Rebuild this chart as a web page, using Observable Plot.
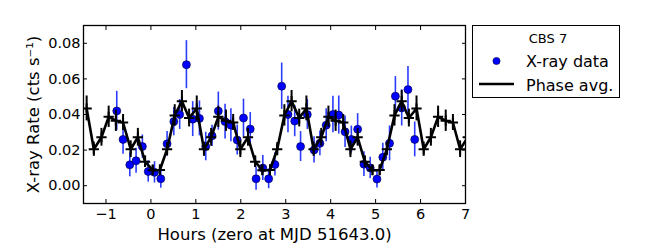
<!DOCTYPE html>
<html>
<head>
<meta charset="utf-8">
<script src="https://cdn.jsdelivr.net/npm/d3@7"></script>
<script src="https://cdn.jsdelivr.net/npm/@observablehq/plot@0.6"></script>
<style>
  html, body { margin: 0; padding: 0; background: #fff; }
  #wrap { position: relative; width: 664px; height: 249px; font-family: "DejaVu Sans", sans-serif; }
  #legend { position: absolute; left: 472px; top: 25px; width: 148px; height: 73px;
            border: 1px solid #000; box-sizing: border-box; background: #fff; }
  #legend svg { position: absolute; left: 0; top: 0; }
</style>
</head>
<body>
<div id="wrap"></div>
<script>
// X-ray data (blue points)
const dataHours = [-0.76, -0.62, -0.47, -0.33, -0.19, -0.06, 0.08, 0.22, 0.36, 0.51, 0.64, 0.79, 0.93, 1.08,
  1.22, 1.36, 1.50, 1.65, 1.78, 1.92, 2.06, 2.21, 2.34, 2.49, 2.62, 2.76, 2.91, 3.05, 3.20, 3.33, 3.48,
  3.63, 3.76, 3.90, 4.05, 4.18, 4.32, 4.46, 4.60, 4.74, 4.88, 5.03, 5.16, 5.31, 5.44, 5.58, 5.72, 5.87];
const dataRate = [0.042, 0.026, 0.0117, 0.014, 0.022, 0.008, 0.0075, 0.0039, 0.0235, 0.036, 0.040, 0.068, 0.0374, 0.0378,
  0.022, 0.028, 0.0419, 0.036, 0.034, 0.0257, 0.038, 0.0318, 0.0039, 0.0099, 0.0039, 0.0119, 0.0559, 0.040, 0.0363, 0.022, 0.040,
  0.0201, 0.0238, 0.034, 0.040, 0.0397, 0.0303, 0.026, 0.0317, 0.0121, 0.0100, 0.0037, 0.016, 0.0238, 0.0503, 0.0437, 0.054, 0.026];
const dataErr = [0.011, 0.0084, 0.0067, 0.007, 0.0065, 0.006, 0.006, 0.0053, 0.007, 0.008, 0.0084, 0.0135, 0.0098, 0.0098,
  0.008, 0.006, 0.0107, 0.0098, 0.0093, 0.0084, 0.0106, 0.0093, 0.0065, 0.007, 0.0056, 0.0065, 0.013, 0.0102, 0.0088, 0.0084, 0.0084,
  0.0074, 0.007, 0.0093, 0.0102, 0.0107, 0.0088, 0.0075, 0.0088, 0.007, 0.006, 0.005, 0.0079, 0.0098, 0.011, 0.0102, 0.013, 0.0098];

// Phase-averaged curve (black)
const phaseHours = [-1.43, -1.27, -1.10, -0.94, -0.78, -0.62, -0.45, -0.29, -0.13, 0.04, 0.20, 0.36, 0.53, 0.69, 0.85,
  1.02, 1.18, 1.34, 1.50, 1.67, 1.83, 1.99, 2.16, 2.32, 2.48, 2.65, 2.81, 2.97, 3.13, 3.30, 3.46, 3.62, 3.79, 3.95,
  4.11, 4.28, 4.44, 4.60, 4.76, 4.93, 5.09, 5.25, 5.42, 5.58, 5.74, 5.91, 6.07, 6.23, 6.39, 6.56, 6.72, 6.88, 7.05];
const phaseRate = [0.0434, 0.0205, 0.0272, 0.0387, 0.0365, 0.0355, 0.0205, 0.0272, 0.0135, 0.0087, 0.0088, 0.0205, 0.0395, 0.0475, 0.0380,
  0.0434, 0.0205, 0.0272, 0.0387, 0.0365, 0.0355, 0.0205, 0.0272, 0.0135, 0.0087, 0.0088, 0.0205, 0.0395, 0.0475, 0.0380,
  0.0434, 0.0205, 0.0272, 0.0387, 0.0365, 0.0355, 0.0205, 0.0272, 0.0135, 0.0087, 0.0088, 0.0205, 0.0395, 0.0475, 0.0380,
  0.0434, 0.0205, 0.0272, 0.0387, 0.0365, 0.0355, 0.0205, 0.0272];
const phaseErr = [0.007, 0.004, 0.005, 0.006, 0.006, 0.0045, 0.0047, 0.005, 0.0033, 0.003, 0.003, 0.0037, 0.006, 0.006, 0.005,
  0.007, 0.004, 0.005, 0.006, 0.006, 0.0045, 0.0047, 0.005, 0.0033, 0.003, 0.003, 0.0037, 0.006, 0.006, 0.005,
  0.007, 0.004, 0.005, 0.006, 0.006, 0.0045, 0.0047, 0.005, 0.0033, 0.003, 0.003, 0.0037, 0.006, 0.006, 0.005,
  0.007, 0.004, 0.005, 0.006, 0.006, 0.0045, 0.0047, 0.005];

const xTicks = [-1, 0, 1, 2, 3, 4, 5, 6, 7];
const yTicks = [0.00, 0.02, 0.04, 0.06, 0.08];

const legendTitle = "CBS 7";
const legendLabels = ["X-ray data", "Phase avg."];
const xLabel = "Hours (zero at MJD 51643.0)";
const yLabel = "X-ray Rate (cts s\u207B\u00B9)";

const data = dataHours.map((h, i) => ({h, r: dataRate[i], e: dataErr[i]}));
const phase = phaseHours.map((h, i) => ({h, r: phaseRate[i], e: phaseErr[i]}));

const blue = "#0000ff";
const noText = () => "";
const chart = Plot.plot({
  width: 664,
  height: 249,
  marginLeft: 83,
  marginRight: 199,
  marginTop: 25,
  marginBottom: 46,
  style: {fontFamily: "DejaVu Sans, sans-serif", background: "transparent"},
  x: {type: "linear", domain: [-1.5, 7]},
  y: {type: "linear", domain: [-0.01, 0.09]},
  marks: [
    // X-ray data
    Plot.ruleX(data, {x: "h", y1: d => d.r - d.e, y2: d => d.r + d.e, stroke: "#2b3cff", strokeWidth: 1.6, clip: true}),
    Plot.dot(data, {x: "h", y: "r", r: 4, fill: blue, stroke: "#000033", strokeWidth: 0.6, clip: true}),
    // phase average
    Plot.ruleX(phase, {x: "h", y1: d => d.r - d.e, y2: d => d.r + d.e, stroke: "#000", strokeWidth: 2, clip: true}),
    Plot.line(phase, {x: "h", y: "r", stroke: "#000", strokeWidth: 2.6, clip: true}),
    Plot.dot(phase, {x: "h", y: "r", symbol: "plus", r: 3.4, stroke: "#000", strokeWidth: 2, clip: true}),
    // inward ticks on all sides
    Plot.axisX(xTicks, {anchor: "bottom", tickSize: -4, tickFormat: noText, label: null, strokeWidth: 1}),
    Plot.axisX(xTicks, {anchor: "top", tickSize: -4, tickFormat: noText, label: null, strokeWidth: 1}),
    Plot.axisY(yTicks, {anchor: "left", tickSize: -4, tickFormat: noText, label: null, strokeWidth: 1}),
    Plot.axisY(yTicks, {anchor: "right", tickSize: -4, tickFormat: noText, label: null, strokeWidth: 1}),
    // tick labels
    Plot.axisX(xTicks, {anchor: "bottom", tickSize: 0, tickPadding: 5, fontSize: 14.5, fill: "#000", label: null}),
    Plot.axisY(yTicks, {anchor: "left", tickSize: 0, tickPadding: 3, fontSize: 14.5, fill: "#000",
      tickFormat: d3.format(".2f"), label: null}),
    // axis titles
    Plot.text([xLabel], {frameAnchor: "bottom", dy: 31, fontSize: 16.5, fill: "#000",
      textAnchor: "middle", lineAnchor: "middle"}),
    Plot.text([yLabel], {frameAnchor: "left", rotate: -90, dx: -50, fontSize: 16.5, fill: "#000",
      textAnchor: "middle", lineAnchor: "middle"}),
    Plot.frame({stroke: "#000", strokeWidth: 1.3})
  ]
});

const wrap = document.getElementById("wrap");
wrap.appendChild(chart);

// legend
const legend = document.createElement("div");
legend.id = "legend";
legend.innerHTML = `
<svg width="148" height="73" xmlns="http://www.w3.org/2000/svg" font-family="DejaVu Sans, sans-serif">
  <text x="75" y="17" font-size="13" text-anchor="middle" fill="#000">${legendTitle}</text>
  <circle cx="23.5" cy="35" r="3.6" fill="${blue}" stroke="#000033" stroke-width="0.6"/>
  <text x="53" y="41" font-size="16" fill="#000">${legendLabels[0]}</text>
  <line x1="6" y1="58" x2="41" y2="58" stroke="#000" stroke-width="2.6"/>
  <text x="53" y="65" font-size="16" fill="#000">${legendLabels[1]}</text>
</svg>`;
wrap.appendChild(legend);
</script>
</body>
</html>
